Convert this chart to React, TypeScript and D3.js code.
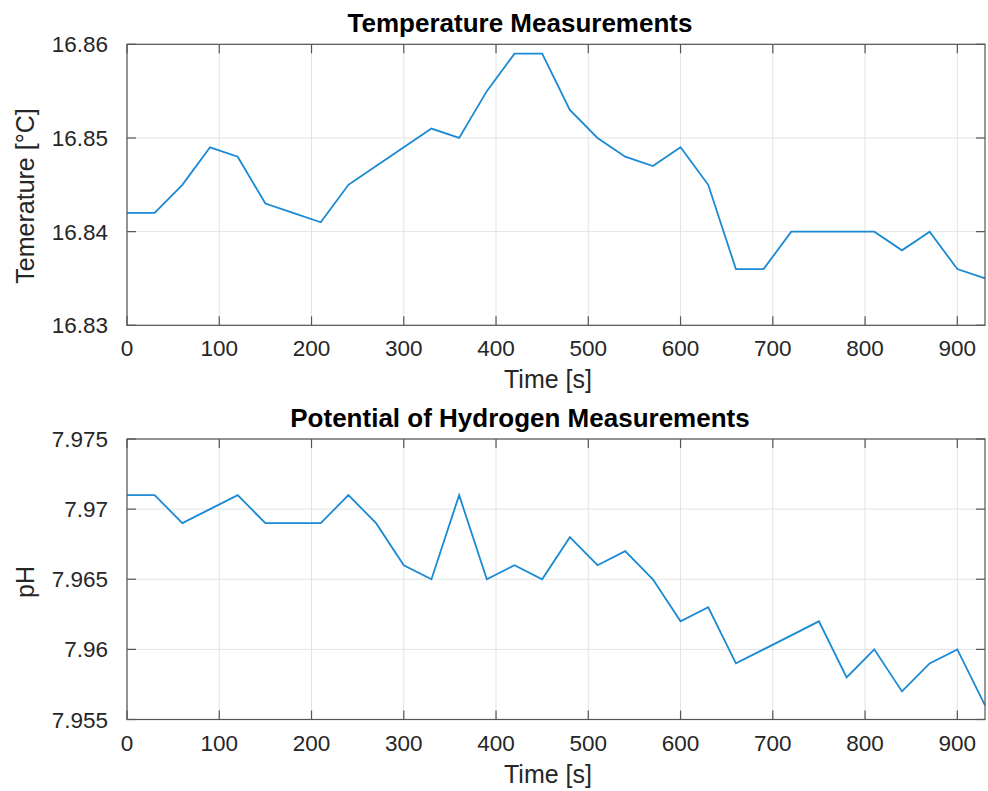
import React from "react";
import * as d3 from "d3";

const timeSeconds = [0, 30, 60, 90, 120, 150, 180, 210, 240, 270, 300, 330, 360, 390, 420, 450, 480, 510, 540, 570, 600, 630, 660, 690, 720, 750, 780, 810, 840, 870, 900, 930];
const temperature = [16.842, 16.842, 16.845, 16.849, 16.848, 16.843, 16.842, 16.841, 16.845, 16.847, 16.849, 16.851, 16.85, 16.855, 16.859, 16.859, 16.853, 16.85, 16.848, 16.847, 16.849, 16.845, 16.836, 16.836, 16.84, 16.84, 16.84, 16.84, 16.838, 16.84, 16.836, 16.835];
const ph = [7.971, 7.971, 7.969, 7.97, 7.971, 7.969, 7.969, 7.969, 7.971, 7.969, 7.966, 7.965, 7.971, 7.965, 7.966, 7.965, 7.968, 7.966, 7.967, 7.965, 7.962, 7.963, 7.959, 7.96, 7.961, 7.962, 7.958, 7.96, 7.957, 7.959, 7.96, 7.956];
const xTicks = [0, 100, 200, 300, 400, 500, 600, 700, 800, 900];
const tempTicks = [16.83, 16.84, 16.85, 16.86];
const tempTickLabels = ["16.83", "16.84", "16.85", "16.86"];
const phTicks = [7.955, 7.96, 7.965, 7.97, 7.975];
const phTickLabels = ["7.955", "7.96", "7.965", "7.97", "7.975"];

const W = 988;
const H = 791;
const LEFT = 127;
const RIGHT = 985;
const FONT = "'Liberation Sans', Arial, Helvetica, sans-serif";
const LINE = "#1A8AD4";
const AXIS = "#555555";
const GRID = "#e3e3e3";
const TEXT = "#262626";

type PanelProps = {
  top: number;
  bottom: number;
  yDomain: [number, number];
  yTicks: number[];
  yTickLabels: string[];
  values: number[];
  title: string;
  yLabel: string;
  yLabelCenter: number;
};

function Panel({ top, bottom, yDomain, yTicks, yTickLabels, values, title, yLabel, yLabelCenter }: PanelProps) {
  const x = d3.scaleLinear().domain([0, 930]).range([LEFT, RIGHT]);
  const y = d3.scaleLinear().domain(yDomain).range([bottom, top]);
  const line = d3
    .line<number>()
    .x((_, i) => x(timeSeconds[i]))
    .y((v) => y(v));
  const tickLen = 9;
  return (
    <g>
      {xTicks.map((t) => (
        <line key={"gx" + t} x1={x(t)} x2={x(t)} y1={top} y2={bottom} stroke={GRID} strokeWidth={1} />
      ))}
      {yTicks.map((t) => (
        <line key={"gy" + t} x1={LEFT} x2={RIGHT} y1={y(t)} y2={y(t)} stroke={GRID} strokeWidth={1} />
      ))}
      <path d={line(values) || ""} fill="none" stroke={LINE} strokeWidth={1.8} strokeLinejoin="miter" />
      <rect x={LEFT} y={top} width={RIGHT - LEFT} height={bottom - top} fill="none" stroke={AXIS} strokeWidth={1.2} />
      {xTicks.map((t) => (
        <g key={"tx" + t}>
          <line x1={x(t)} x2={x(t)} y1={bottom} y2={bottom - tickLen} stroke={AXIS} strokeWidth={1.2} />
          <line x1={x(t)} x2={x(t)} y1={top} y2={top + tickLen} stroke={AXIS} strokeWidth={1.2} />
          <text x={x(t)} y={bottom + 31} textAnchor="middle" fontSize={22.5} fill={TEXT} fontFamily={FONT}>
            {t}
          </text>
        </g>
      ))}
      {yTicks.map((t, i) => (
        <g key={"ty" + t}>
          <line x1={LEFT} x2={LEFT + tickLen} y1={y(t)} y2={y(t)} stroke={AXIS} strokeWidth={1.2} />
          <line x1={RIGHT} x2={RIGHT - tickLen} y1={y(t)} y2={y(t)} stroke={AXIS} strokeWidth={1.2} />
          <text x={108} y={y(t) + 8} textAnchor="end" fontSize={22.5} fill={TEXT} fontFamily={FONT}>
            {yTickLabels[i]}
          </text>
        </g>
      ))}
      <text x={520} y={top - 12.5} textAnchor="middle" fontSize={26} fontWeight="bold" fill="#000" fontFamily={FONT}>
        {title}
      </text>
      <text x={548} y={bottom + 63} textAnchor="middle" fontSize={25} fill={TEXT} fontFamily={FONT}>
        Time [s]
      </text>
      <text
        transform={`translate(34, ${yLabelCenter}) rotate(-90)`}
        textAnchor="middle"
        fontSize={25}
        fill={TEXT}
        fontFamily={FONT}
      >
        {yLabel}
      </text>
    </g>
  );
}

export default function App() {
  return (
    <svg
      width={W}
      height={H}
      viewBox={`0 0 ${W} ${H}`}
      style={{ position: "absolute", left: 0, top: 0, background: "#fff", display: "block" }}
    >
      <rect width={W} height={H} fill="#fff" />
      <Panel
        top={44.3}
        bottom={325.3}
        yDomain={[16.83, 16.86]}
        yTicks={tempTicks}
        yTickLabels={tempTickLabels}
        values={temperature}
        title="Temperature Measurements"
        yLabel="Temerature [°C]"
        yLabelCenter={196}
      />
      <Panel
        top={439}
        bottom={719.5}
        yDomain={[7.955, 7.975]}
        yTicks={phTicks}
        yTickLabels={phTickLabels}
        values={ph}
        title="Potential of Hydrogen Measurements"
        yLabel="pH"
        yLabelCenter={582}
      />
    </svg>
  );
}
